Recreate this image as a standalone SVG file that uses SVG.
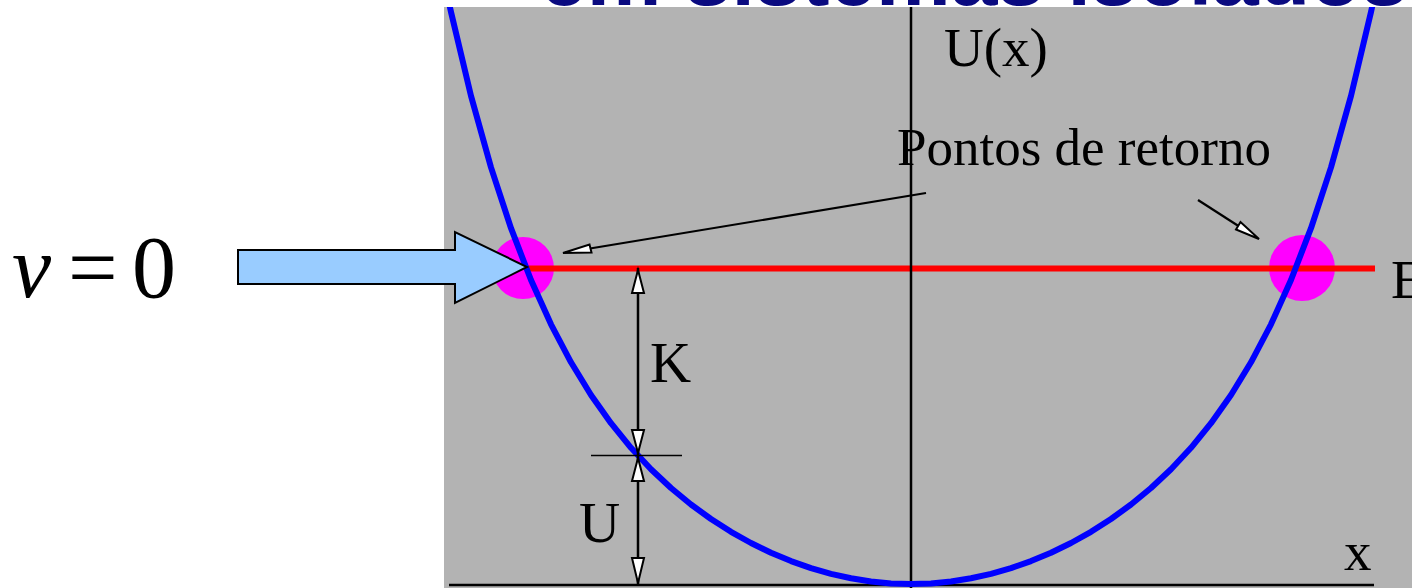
<svg xmlns="http://www.w3.org/2000/svg" width="1412" height="588" viewBox="0 0 1412 588">
  <style>
    .lbl { font-family: "Liberation Serif", "Times New Roman", serif; fill: #000; }
    .ax { stroke: #000; stroke-width: 2.5; fill: none; }
    .thin { stroke: #000; stroke-width: 1.6; fill: none; }
    .ptr { stroke: #000; stroke-width: 2.2; fill: none; }
    .ah { fill: #fff; stroke: #000; stroke-width: 2; stroke-linejoin: miter; }
  </style>
  <defs>
    <clipPath id="plotClip">
      <rect x="444" y="7" width="968" height="581"/>
    </clipPath>
  </defs>
  <rect width="1412" height="588" fill="#ffffff"/>

  <g id="title">
    <text x="540" y="5" font-family="'Liberation Sans', Arial, sans-serif" font-weight="bold" font-size="84" fill="#0a0a80" textLength="868" lengthAdjust="spacing">em sistemas isolados</text>
  </g>

  <g id="plot-background">
    <rect x="444" y="7" width="968" height="581" fill="#b3b3b3"/>
  </g>

  <g id="turning-points">
    <circle cx="523" cy="268" r="31" fill="#ff00ff"/>
    <circle cx="1302" cy="268" r="33" fill="#ff00ff"/>
  </g>

  <g id="energy-line">
    <line x1="527" y1="268.5" x2="1375" y2="268.5" stroke="#ff0000" stroke-width="6"/>
  </g>

  <g id="axes">
    <line class="ax" x1="911" y1="7" x2="911" y2="588"/>
    <line class="ax" x1="449" y1="585" x2="1374" y2="585"/>
  </g>

  <g id="potential-curve" clip-path="url(#plotClip)">
    <polyline fill="none" stroke="#0000ff" stroke-width="6" stroke-linejoin="round"
      points="447,-6.5 451,12 471,95.9 491,167.4 511,228.2 531,280 551,324.3 571,362.3 591,395 611,423.2 631,447.8 651,469.2 671,488 691,504.5 711,519 731,531.8 751,543 771,552.8 791,561.1 811,568.1 831,573.9 851,578.3 871,581.5 891,583.4 911,584 931,583.4 951,581.5 971,578.3 991,573.9 1011,568.1 1031,561.1 1051,552.8 1071,543 1091,531.8 1111,519 1131,504.5 1151,488 1171,469.2 1191,447.8 1211,423.2 1231,395 1251,362.3 1271,324.3 1291,280 1311,228.2 1331,167.4 1351,95.9 1371,12 1375,-6.5"/>
  </g>

  <g id="connectors">
    <!-- pointers from "Pontos de retorno" -->
    <line class="ptr" x1="926" y1="193" x2="590" y2="248.5"/>
    <polygon class="ah" points="563,253 591.5,252.5 589.5,244.5"/>
    <line class="ptr" x1="1198" y1="200" x2="1240" y2="227"/>
    <polygon class="ah" points="1259,239 1236,229.5 1240.5,222"/>
    <!-- K / U dimension -->
    <line class="ax" x1="638" y1="268" x2="638" y2="585" stroke-width="2.2"/>
    <line class="thin" x1="591" y1="455.5" x2="682" y2="455.5"/>
    <polygon class="ah" points="638,270 632,293 644,293"/>
    <polygon class="ah" points="638,453 632,430 644,430"/>
    <polygon class="ah" points="638,458 632,481 644,481"/>
    <polygon class="ah" points="638,583 632,558 644,558"/>
  </g>

  <g id="labels">
    <text class="lbl" x="944" y="66" font-size="55">U(x)</text>
    <text class="lbl" x="897" y="165" font-size="53">Pontos de retorno</text>
    <text class="lbl" x="650" y="382" font-size="57">K</text>
    <text class="lbl" x="579" y="542" font-size="57">U</text>
    <text class="lbl" x="1344" y="570" font-size="55">x</text>
    <text class="lbl" x="1391" y="298" font-size="55">E</text>
  </g>

  <g id="v-zero-label">
    <text class="lbl" x="12" y="297" font-size="88" font-style="italic">v</text>
    <text class="lbl" x="68" y="297" font-size="88">=</text>
    <text class="lbl" x="132" y="297" font-size="88">0</text>
  </g>

  <g id="v-zero-arrow">
    <polygon points="238,250 455,250 455,232 527,267 455,303 455,284 238,284" fill="#99ccff" stroke="#000" stroke-width="2" stroke-linejoin="miter"/>
  </g>
</svg>
